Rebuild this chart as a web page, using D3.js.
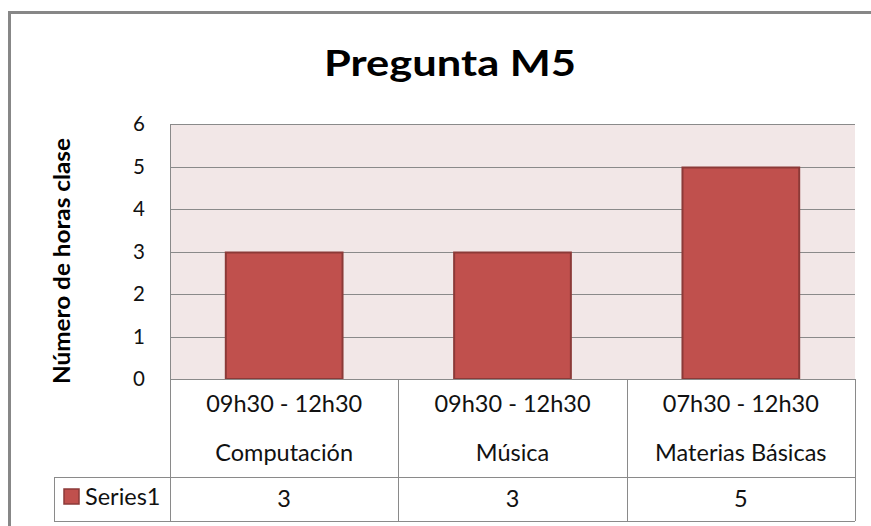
<!DOCTYPE html>
<html>
<head>
<meta charset="utf-8">
<script src="https://cdn.jsdelivr.net/npm/d3@7"></script>
<style>
  html, body { margin: 0; padding: 0; background: #ffffff; }
  svg { display: block; font-family: Lato, "Noto Sans", sans-serif; }
</style>
</head>
<body>
<svg id="chart" width="871" height="526"></svg>
<script>
// Chart content
const chartTitle = "Pregunta M5";
const yAxisTitle = "Número de horas clase";
const schedules = ["09h30 - 12h30", "09h30 - 12h30", "07h30 - 12h30"];
const subjects = ["Computación", "Música", "Materias Básicas"];
const seriesName = "Series1";
const seriesValues = [3, 3, 5];
const yTicks = [0, 1, 2, 3, 4, 5, 6];

// Layout
const plot = { left: 170, right: 855, top: 124, bottom: 379 };
const table = { legendLeft: 54, rowSplit: 477, bottom: 521 };
const barFill = "#c0504d", barStroke = "#8c3a38";
const lineColor = "#8a8a8a";

const svg = d3.select("#chart");

// Outer chart frame (runs past the right and bottom edges)
svg.append("rect")
  .attr("x", 9.5).attr("y", 12.5)
  .attr("width", 900).attr("height", 600)
  .attr("fill", "#ffffff")
  .attr("stroke", "#878787").attr("stroke-width", 3);

const idx = d3.range(subjects.length);
const x = d3.scaleBand().domain(idx).range([plot.left, plot.right]).padding(0);
const y = d3.scaleLinear().domain([0, 6]).range([plot.bottom, plot.top]);

// Plot background
svg.append("rect")
  .attr("x", plot.left).attr("y", plot.top)
  .attr("width", plot.right - plot.left).attr("height", plot.bottom - plot.top)
  .attr("fill", "#f2e7e7");

// Horizontal gridlines
const grid = svg.append("g")
  .attr("transform", `translate(${plot.left},0)`)
  .call(d3.axisLeft(y).tickValues(yTicks).tickSize(-(plot.right - plot.left)).tickFormat(""));
grid.select(".domain").remove();
grid.selectAll(".tick line").attr("stroke", lineColor).attr("stroke-width", 1)
  .attr("shape-rendering", "crispEdges");

// Plot area left edge
svg.append("line")
  .attr("x1", plot.left + 0.5).attr("x2", plot.left + 0.5)
  .attr("y1", plot.top).attr("y2", plot.bottom)
  .attr("stroke", lineColor);

// Y tick labels
const yAxis = svg.append("g")
  .attr("transform", `translate(${plot.left - 25},0)`)
  .call(d3.axisLeft(y).tickValues(yTicks).tickSize(0).tickPadding(0).tickFormat(d3.format("d")));
yAxis.select(".domain").remove();
yAxis.selectAll("text")
  .attr("font-family", "Lato, sans-serif")
  .attr("font-size", 20.5)
  .attr("fill", "#111");

// Bars
const barFrac = 0.52;
svg.append("g").selectAll("rect")
  .data(seriesValues)
  .join("rect")
  .attr("x", (d, i) => x(i) + x.bandwidth() * (1 - barFrac) / 2 + 1)
  .attr("width", x.bandwidth() * barFrac - 2)
  .attr("y", d => y(d) + 1)
  .attr("height", d => y(0) - y(d) - 1)
  .attr("fill", barFill)
  .attr("stroke", barStroke)
  .attr("stroke-width", 2);

// Title
svg.append("text")
  .attr("x", 450).attr("y", 76)
  .attr("text-anchor", "middle")
  .attr("font-family", "Lato, sans-serif")
  .attr("font-weight", "bold")
  .attr("font-size", 37)
  .attr("textLength", 252)
  .attr("lengthAdjust", "spacingAndGlyphs")
  .attr("fill", "#000")
  .text(chartTitle);

// Y axis title
svg.append("text")
  .attr("transform", "translate(70,261) rotate(-90)")
  .attr("text-anchor", "middle")
  .attr("font-family", "Lato, sans-serif")
  .attr("font-weight", "bold")
  .attr("font-size", 23.5)
  .attr("textLength", 246)
  .attr("lengthAdjust", "spacingAndGlyphs")
  .attr("fill", "#000")
  .text(yAxisTitle);

// Data table grid
const tg = svg.append("g")
  .attr("stroke", lineColor).attr("stroke-width", 1)
  .attr("shape-rendering", "crispEdges");
tg.append("line").attr("x1", plot.left).attr("x2", plot.right)
  .attr("y1", plot.bottom + 0.5).attr("y2", plot.bottom + 0.5);
tg.append("line").attr("x1", table.legendLeft).attr("x2", plot.right)
  .attr("y1", table.rowSplit + 0.5).attr("y2", table.rowSplit + 0.5);
tg.append("line").attr("x1", table.legendLeft).attr("x2", plot.right)
  .attr("y1", table.bottom + 0.5).attr("y2", table.bottom + 0.5);
tg.append("line").attr("x1", table.legendLeft + 0.5).attr("x2", table.legendLeft + 0.5)
  .attr("y1", table.rowSplit).attr("y2", table.bottom);
const colEdges = idx.map(i => x(i)).concat([plot.right]);
tg.selectAll("line.col").data(colEdges).join("line")
  .attr("class", "col")
  .attr("x1", d => Math.round(d) + 0.5).attr("x2", d => Math.round(d) + 0.5)
  .attr("y1", plot.bottom).attr("y2", table.bottom);

// Category labels (two lines per column)
const cellText = { "font-family": "Lato, sans-serif", "font-size": 23.5, "fill": "#111" };
function styled(sel) {
  Object.entries(cellText).forEach(([k, v]) => sel.attr(k, v));
  return sel;
}
styled(svg.append("g").selectAll("text").data(schedules).join("text")
  .attr("x", (d, i) => x(i) + x.bandwidth() / 2).attr("y", 412)
  .attr("text-anchor", "middle").text(d => d));
styled(svg.append("g").selectAll("text").data(subjects).join("text")
  .attr("x", (d, i) => x(i) + x.bandwidth() / 2).attr("y", 461)
  .attr("text-anchor", "middle").text(d => d));

// Series values row
styled(svg.append("g").selectAll("text").data(seriesValues).join("text")
  .attr("x", (d, i) => x(i) + x.bandwidth() / 2).attr("y", 507)
  .attr("text-anchor", "middle").text(d => d));

// Legend key in the table
svg.append("rect")
  .attr("x", 64).attr("y", 489).attr("width", 15).attr("height", 15)
  .attr("fill", barFill).attr("stroke", barStroke).attr("stroke-width", 1.5);
styled(svg.append("text").attr("x", 85).attr("y", 505).text(seriesName));
</script>
</body>
</html>
